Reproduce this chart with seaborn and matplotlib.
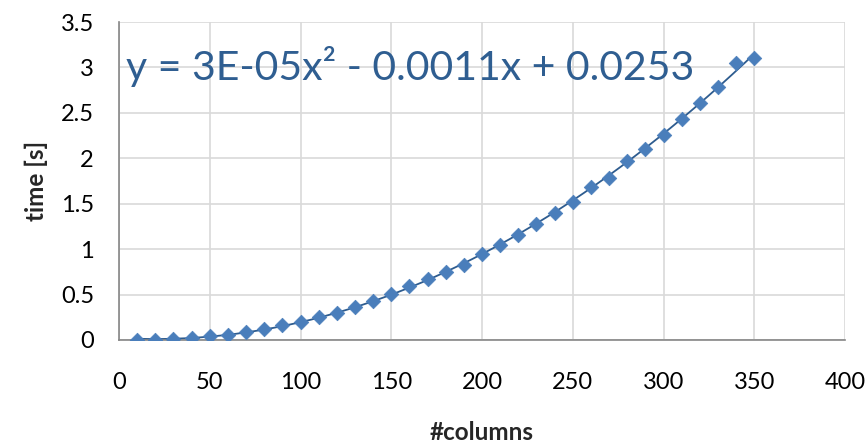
import numpy as np
import pandas as pd
import matplotlib
matplotlib.use("Agg")
import matplotlib.pyplot as plt
import seaborn as sns

columns = [10, 20, 30, 40, 50, 60, 70, 80, 90, 100, 110, 120, 130, 140, 150, 160, 170, 180,
           190, 200, 210, 220, 230, 240, 250, 260, 270, 280, 290, 300, 310, 320, 330, 340, 350]
times = [0.003, 0.003, 0.01, 0.02, 0.04, 0.06, 0.09, 0.12, 0.16, 0.20, 0.25, 0.30, 0.36, 0.43,
         0.51, 0.59, 0.67, 0.75, 0.83, 0.95, 1.05, 1.16, 1.28, 1.40, 1.52, 1.68, 1.78, 1.97,
         2.10, 2.26, 2.43, 2.61, 2.78, 3.05, 3.10]
x_ticks = [0, 50, 100, 150, 200, 250, 300, 350, 400]
y_ticks = [0, 0.5, 1, 1.5, 2, 2.5, 3, 3.5]
y_tick_labels = ["0", "0.5", "1", "1.5", "2", "2.5", "3", "3.5"]
equation = "y = 3E-05x² - 0.0011x + 0.0253"

sns.set_theme(style="white")
plt.rcParams["font.family"] = ["Lato", "DejaVu Sans"]

df = pd.DataFrame({"columns": columns, "time": times})
coef = np.polyfit(df["columns"], df["time"], 2)
xs = np.linspace(min(columns), max(columns), 200)
trend = pd.DataFrame({"columns": xs, "time": np.polyval(coef, xs)})

fig = plt.figure(figsize=(8.68, 4.45), dpi=100)
ax = fig.add_axes([119 / 868, 1 - 340 / 445, (845 - 119) / 868, (340 - 22) / 445])

sns.lineplot(data=trend, x="columns", y="time", ax=ax, color="#2E5C8F", linewidth=1.3)
sns.scatterplot(data=df, x="columns", y="time", ax=ax, marker="D", s=55,
                color="#4A7EBB", edgecolor="#4A7EBB", linewidth=0.5, zorder=3)

ax.set_xlim(0, 400)
ax.set_ylim(0, 3.5)
ax.set_xticks(x_ticks)
ax.set_yticks(y_ticks)
ax.set_yticklabels(y_tick_labels)
ax.grid(True, color="#D9D9D9", linewidth=1.2)
ax.set_axisbelow(True)
for s in ["top", "right"]:
    ax.spines[s].set_visible(False)
for s in ["left", "bottom"]:
    ax.spines[s].set_color("#868686")
    ax.spines[s].set_linewidth(1.2)
ax.tick_params(axis="x", length=0, pad=23, labelsize=17, colors="black")
ax.tick_params(axis="y", length=0, pad=18, labelsize=17, colors="black")
ax.set_xlabel("#columns", fontsize=17.5, fontweight="bold", labelpad=20)
ax.set_ylabel("time [s]", fontsize=17.5, fontweight="bold", labelpad=9)

ax.text(4, 2.86, equation, fontsize=29.5, color="#2F5E91", va="baseline", ha="left")

fig.savefig("out.png", dpi=100)
